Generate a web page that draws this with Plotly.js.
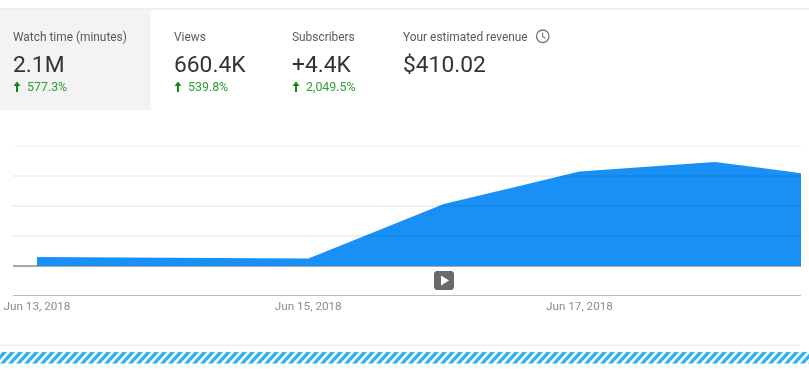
<!DOCTYPE html>
<html>
<head>
<meta charset="utf-8">
<script src="https://cdn.plot.ly/plotly-3.0.1.min.js"></script>
<style>html,body{margin:0;padding:0;background:#fff;overflow:hidden}#chart{width:809px;height:376px;filter:blur(0.35px)}</style>
</head>
<body>
<div id="chart"></div>
<script>
const dates = ["2018-06-13","2018-06-14","2018-06-15","2018-06-16","2018-06-17","2018-06-18","2018-06-19"];
const watchMinutesK = [45, 42, 37, 310, 472, 520, 432];
const gridValues = [150,300,450,600];
const tickDates = ["2018-06-13","2018-06-15","2018-06-17"];
const tickLabels = ["Jun 13, 2018","Jun 15, 2018","Jun 17, 2018"];
const metricNames = ["Watch time (minutes)","Views","Subscribers","Your estimated revenue"];
const metricValues = ["2.1M","660.4K","+4.4K","$410.02"];
const metricChanges = ["577.3%","539.8%","2,049.5%",""];
const metricX = [13,174,292,403];

const W = 809, H = 376;
const M = {l:13, r:8, t:146, b:81};
const px = x => (x - M.l) / (W - M.l - M.r);
const py = y => 1 - (y - M.t) / (H - M.t - M.b);

const shapes = [];
function rect(x0,y0,x1,y1,color){
  shapes.push({type:'rect',xref:'paper',yref:'paper',x0:px(x0),x1:px(x1),y0:py(y0),y1:py(y1),
    fillcolor:color,line:{width:0},layer:'above'});
}
function poly(pts,color){
  const path = pts.map((p,i)=>(i?'L':'M')+px(p[0])+','+py(p[1])).join(' ')+' Z';
  shapes.push({type:'path',xref:'paper',yref:'paper',path,fillcolor:color,line:{width:0},layer:'above'});
}
rect(0,8,809,10,'#eeeeee');
rect(0,10,150.5,110,'#f3f3f3');
rect(0,344.5,801,346,'#eeeeee');

// gridlines drawn over the area, as in the reference
gridValues.forEach(v=>{
  shapes.push({type:'line',xref:'paper',yref:'y',x0:0,x1:1,y0:v,y1:v,
    line:{color:'rgba(0,0,0,0.12)',width:1.2},layer:'above'});
});

// up arrows
metricChanges.forEach((c,i)=>{
  if(!c) return;
  const a = metricX[i] + 4;
  poly([[a-3.5,86],[a,81.5],[a+3.5,86],[a+1,86],[a+1,92],[a-1,92],[a-1,86]],'#108a10');
});

// clock icon
shapes.push({type:'circle',xref:'paper',yref:'paper',x0:px(536.5),x1:px(549),y0:py(42.5),y1:py(30),
  line:{color:'#777777',width:1.3},fillcolor:'rgba(0,0,0,0)',layer:'above'});
shapes.push({type:'path',xref:'paper',yref:'paper',
  path:'M'+px(542.7)+','+py(32.5)+' L'+px(542.7)+','+py(36.6)+' L'+px(545.6)+','+py(38.3),
  line:{color:'#777777',width:1.1},layer:'above'});

// play button
shapes.push({type:'path',xref:'paper',yref:'paper',layer:'above',fillcolor:'#6a6a6a',line:{width:0},
  path:[[436,271],[452,271],[454,273],[454,288],[452,290],[436,290],[434,288],[434,273]]
    .map((p,i)=>(i?'L':'M')+px(p[0])+','+py(p[1])).join(' ')+' Z'});
poly([[441,275.5],[449,280.5],[441,285.5]],'#ffffff');

// hatched strip
for(let x=-8;x<815;x+=8){
  poly([[x,363.5],[x+4.5,363.5],[x+15,352],[x+10.5,352]],'#2cb0f8');
}

const ann = [];
function label(x,y,text,size,color){
  ann.push({xref:'paper',yref:'paper',x:px(x),y:py(y),xanchor:'left',yanchor:'middle',showarrow:false,
    text,font:{family:'Roboto, sans-serif',size,color},borderpad:0,borderwidth:0});
}
metricNames.forEach((n,i)=>{
  label(metricX[i]-0.5,36.6,n,11.9,'#5a5a5a');
  label(metricX[i]-0.5,64,metricValues[i],22.8,'#333333');
  if(metricChanges[i]) label(metricX[i]+14,86.6,metricChanges[i],12.4,'#2f9e33');
});

Plotly.newPlot('chart',[{
  x:dates,y:watchMinutesK,type:'scatter',mode:'lines',fill:'tozeroy',
  fillcolor:'#1890f5',line:{width:0,color:'#1890f5'},hoverinfo:'skip'
}],{
  width:W,height:H,margin:M,paper_bgcolor:'#ffffff',plot_bgcolor:'#ffffff',showlegend:false,
  font:{family:'Roboto, sans-serif'},
  xaxis:{
    type:'date',
    range:['2018-06-12 19:45','2018-06-18 15:13'],
    tickmode:'array',tickvals:tickDates,ticktext:tickLabels,
    ticks:'',
    tickfont:{size:11.7,color:'#8c8c8c',family:'Roboto, sans-serif'},
    showgrid:false,showline:true,linecolor:'#bdbdbd',linewidth:1.2,zeroline:false,fixedrange:true
  },
  yaxis:{
    range:[-145,600],showticklabels:false,ticks:'',showgrid:false,
    zeroline:true,zerolinecolor:'#a8a8a8',zerolinewidth:1.2,showline:false,fixedrange:true
  },
  shapes,annotations:ann
},{displayModeBar:false,staticPlot:true});
</script>
</body>
</html>
